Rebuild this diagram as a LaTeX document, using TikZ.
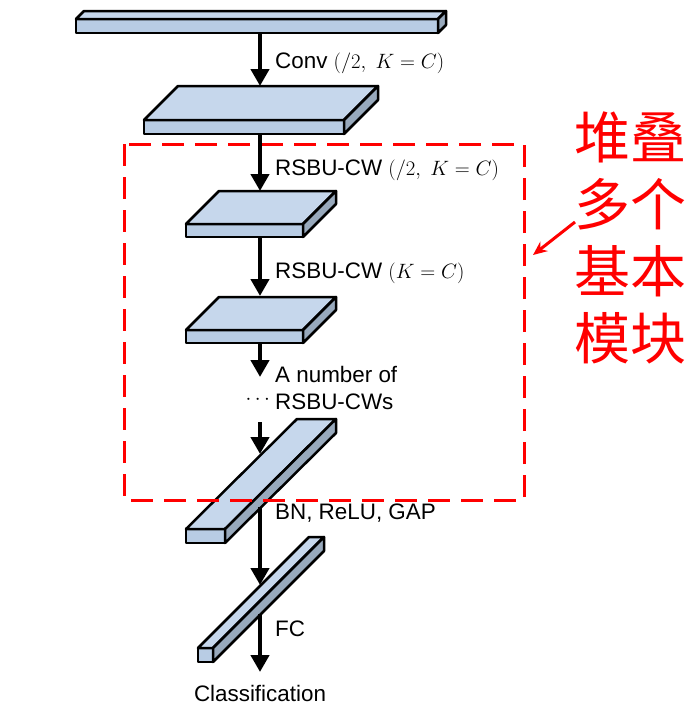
\documentclass[tikz,border=0pt]{standalone}
\usepackage[no-math]{fontspec}
\setmainfont{Liberation Sans}
\newfontfamily\cjkfont{Noto Sans CJK SC}
\usepackage{xcolor}
\usepackage{tikz}
\usetikzlibrary{positioning,arrows.meta}
\definecolor{topblue}{HTML}{C6D7EC}
\definecolor{frontblue}{HTML}{B8CCE4}
\definecolor{sideblue}{HTML}{98A9BC}

\begin{document}
\begin{tikzpicture}[x=1pt,y=-1pt,
    face/.style={draw=black, line width=2.5pt, line join=round},
    flow/.style={-{Triangle[width=18pt,length=17pt]}, line width=4.5pt},
    lbl/.style={anchor=west, inner sep=0pt, font=\fontsize{22.4}{27}\selectfont}]
\useasboundingbox (0,0) rectangle (697,707);

% Feature maps: x/y of front face, width/height, depth offset
\foreach \x/\y/\w/\h/\dx/\dy in {76/19/362/14/8/8, 144/120/200/14/34/34,
    186/224/117/13/33/33, 186/330/117/13/33/33,
    186/529/39/14/111/110, 198/648/15/14/111/111} {
    \filldraw[face, fill=frontblue] (\x,\y) rectangle ++(\w,\h);
    \filldraw[face, fill=topblue] (\x,\y) -- ++(\dx,-\dy) -- ++(\w,0) -- ++(-\dx,\dy) -- cycle;
    \filldraw[face, fill=sideblue] (\x+\w,\y) -- ++(\dx,-\dy) -- ++(0,\h) -- ++(-\dx,\dy) -- cycle;
}

% Stacked units
\draw[red, line width=3pt, dash pattern=on 22pt off 11pt] (124,144) rectangle (524,500);

% Connection points
\coordinate (b1s) at (260,33);
\coordinate (b2t) at (260,86);
\coordinate (b2s) at (260,134);
\coordinate (b3t) at (260,191);
\coordinate (b3s) at (260,237);
\coordinate (b4t) at (260,296);
\coordinate (b4s) at (260,343);
\coordinate (morea) at (260,377);
\coordinate (moreb) at (260,422);
\coordinate (b5t) at (260,454);
\coordinate (b5s) at (260,507);
\coordinate (b6t) at (260,585);
\coordinate (b6s) at (260,614);
\coordinate (out) at (260,672);

\draw[flow] (b1s) -- (b2t);
\draw[flow] (b2s) -- (b3t);
\draw[flow] (b3s) -- (b4t);
\draw[flow] (b4s) -- (morea);
\draw[flow] (moreb) -- (b5t);
\draw[flow] (b5s) -- (b6t);
\draw[flow] (b6s) -- (out);

% Labels
\node[lbl] (conv) at (275,63) {Conv $(/2,\;K=C)$};
\node[lbl] (rsbua) at (275,170) {RSBU-CW $(/2,\;K=C)$};
\node[lbl] (rsbub) at (275,273) {RSBU-CW $(K=C)$};
\node[lbl, align=left] (many) at (275,388) {A number of\\RSBU-CWs};
\node[lbl, anchor=east] (dots) at (270,400) {$\cdots$};
\node[lbl] (bn) at (275,513) {BN, ReLU, GAP};
\node[lbl] (fc) at (275,629) {FC};
\node[lbl, anchor=center] (cls) at (260,693) {Classification};

% Note
\node[red, inner sep=0pt, align=center, font=\cjkfont\fontsize{56}{67}\selectfont] (stack) at (630,238) {堆叠\\多个\\基本\\模块};
\coordinate (pointer) at (575,222);
\coordinate (boxedge) at (533,255);
\draw[red, line width=3pt, -{Stealth[length=14pt,width=12pt]}] (pointer) -- (boxedge);
\end{tikzpicture}
\end{document}
